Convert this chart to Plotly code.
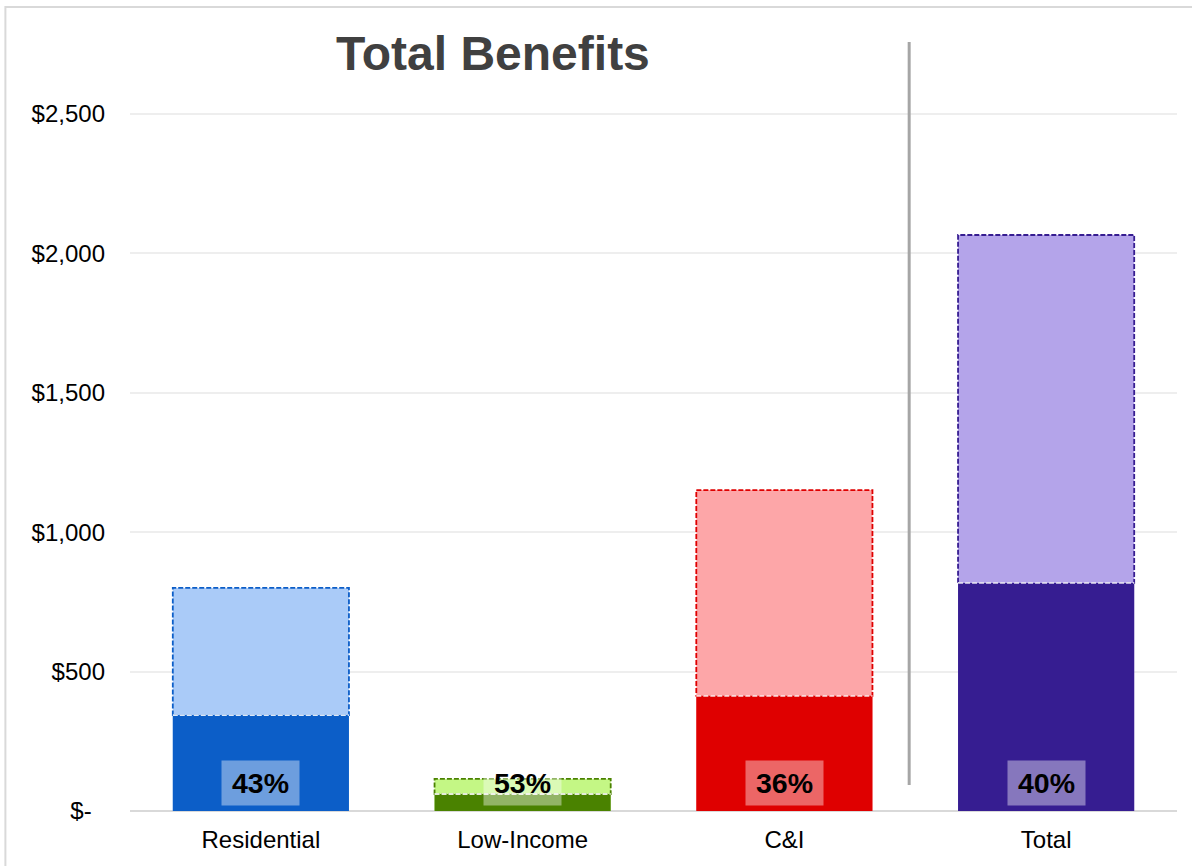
import plotly.graph_objects as go

# ---- data ----
categories = ["Residential", "Low-Income", "C&I", "Total"]
total_benefits = [800, 115, 1151, 2066]
captured_benefits = [344, 61, 413, 818]
pct_labels = ["43%", "53%", "36%", "40%"]
y_tick_vals = [0, 500, 1000, 1500, 2000, 2500]
y_tick_text = ["$-\u00a0\u00a0", "$500", "$1,000", "$1,500", "$2,000", "$2,500"]

# ---- styles ----
dark_colors = ["#0C5EC8", "#4A8200", "#DF0000", "#361D91"]
light_colors = ["#AACBF8", "#C4F785", "#FDA6A8", "#B4A4EA"]
BAR_W = 0.673
FONT = "Liberation Sans, Arial, sans-serif"

fig = go.Figure()
fig.add_trace(go.Bar(
    x=categories, y=total_benefits, width=BAR_W,
    marker=dict(color=light_colors, line=dict(width=0)),
    hoverinfo="x+y", showlegend=False,
))
fig.add_trace(go.Bar(
    x=categories, y=captured_benefits, width=BAR_W,
    marker=dict(color=dark_colors, line=dict(width=0)),
    hoverinfo="x+y", showlegend=False,
))

shapes = []
for i, (tot, cap, dc) in enumerate(zip(total_benefits, captured_benefits, dark_colors)):
    # dashed outline around the light (uncaptured) portion
    shapes.append(dict(
        type="rect", xref="x", yref="y",
        x0=i - BAR_W / 2, x1=i + BAR_W / 2, y0=cap, y1=tot,
        line=dict(color=dc, width=1.8, dash="5px,2px"),
        fillcolor="rgba(0,0,0,0)", layer="above",
    ))
    # light dotted separator on top of the dark portion
    shapes.append(dict(
        type="line", xref="x", yref="y",
        x0=i - BAR_W / 2, x1=i + BAR_W / 2, y0=cap, y1=cap,
        line=dict(color="rgba(255,255,255,0.85)", width=1.8, dash="5px,2px"),
        layer="above",
    ))

# separator between segments and total
shapes.append(dict(
    type="line", xref="paper", yref="paper",
    x0=0.7442, x1=0.7442, y0=0.037, y1=1.094,
    line=dict(color="#A6A6A6", width=3), layer="above",
))
# outer chart border (only top/left visible in the crop)
shapes.append(dict(
    type="rect", xref="paper", yref="paper",
    x0=-0.119, x1=1.3, y0=-0.3, y1=1.1436,
    line=dict(color="#D9D9D9", width=2), fillcolor="rgba(0,0,0,0)", layer="below",
))

annotations = []
for i, lab in enumerate(pct_labels):
    annotations.append(dict(
        x=categories[i], y=100, xref="x", yref="y",
        text="<b>" + lab + "</b>", showarrow=False,
        font=dict(family=FONT, size=28.5, color="#000000"),
        bgcolor="rgba(255,255,255,0.4)", width=75, height=42,
        xanchor="center", yanchor="middle",
    ))
annotations.append(dict(
    x=0.3464, y=1.077, xref="paper", yref="paper",
    text="<b>Total Benefits</b>", showarrow=False,
    font=dict(family=FONT, size=48, color="#404040"),
    xanchor="center", yanchor="middle",
))

fig.update_layout(
    width=1192, height=866,
    margin=dict(l=130, r=15, t=108, b=55),
    paper_bgcolor="white", plot_bgcolor="white",
    barmode="overlay",
    shapes=shapes, annotations=annotations,
    font=dict(family=FONT, size=24, color="#000000"),
    xaxis=dict(
        type="category", range=[-0.5, 3.5], showgrid=False, showline=False,
        zeroline=False, ticks="", tickfont=dict(size=24, color="#000000"),
        ticklabelstandoff=12,
    ),
    yaxis=dict(
        range=[0, 2521.5], tickvals=y_tick_vals, ticktext=y_tick_text,
        showgrid=True, gridcolor="#EEEEEE", gridwidth=1.5,
        zeroline=True, zerolinecolor="#D9D9D9", zerolinewidth=2,
        showline=False, ticks="", tickfont=dict(size=24, color="#000000"),
        ticklabelstandoff=24,
    ),
)

fig.write_html(
    "out.html",
    config={"displayModeBar": False},
    post_script="document.body.style.margin='0';document.body.style.overflow='hidden';",
)
